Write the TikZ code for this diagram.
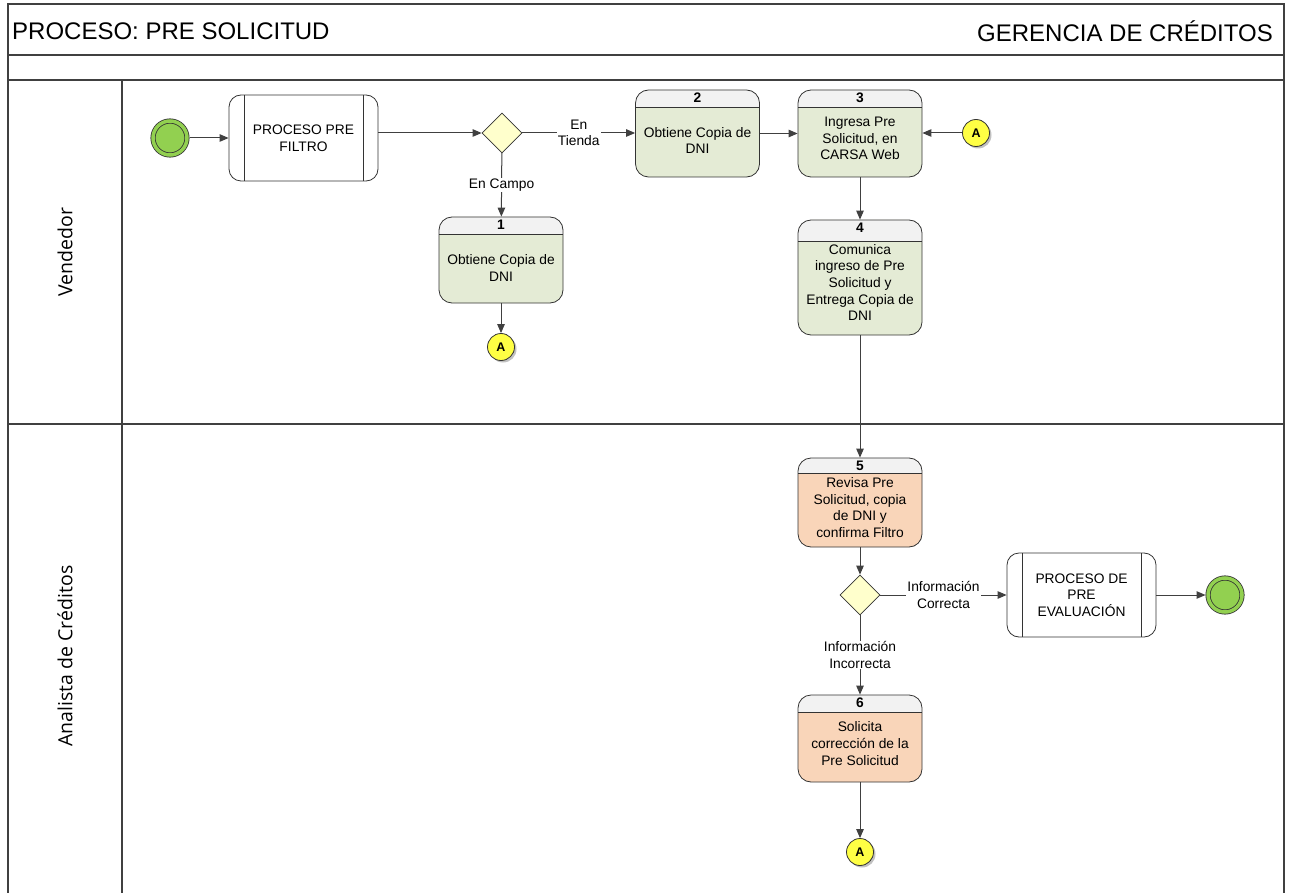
\documentclass[tikz,border=0pt]{standalone}
\usepackage{fontspec}
\setmainfont{Liberation Sans}
\newfontfamily\lanefont{Open Sans}
\usepackage{tikz}
\usetikzlibrary{shapes.geometric,arrows.meta,calc,shadows,positioning}

\definecolor{evgreen}{HTML}{92D050}
\definecolor{gwyellow}{HTML}{FFFFCC}
\definecolor{taskgreen}{HTML}{E4EBD5}
\definecolor{taskorange}{HTML}{F9D5B9}
\definecolor{headgray}{HTML}{F2F2F2}
\definecolor{conyellow}{HTML}{FFFF44}
\definecolor{linegray}{HTML}{404040}

\newcommand{\shapefont}{\fontsize{13.8}{16.6}\selectfont}
\newcommand{\titlefont}{\fontsize{24}{27}\selectfont}

\begin{document}
\begin{tikzpicture}[x=1pt,y=-1pt,
    frameline/.style={line width=1.4pt,draw=black!75},
    flow/.style={draw=linegray,line width=1pt,-{Triangle[length=9pt,width=7.5pt]}},
    lbl/.style={fill=white,inner sep=1pt,align=center,font=\shapefont},
    event/.style={circle,draw=black!80,line width=0.8pt,fill=evgreen,double=evgreen,
        double distance=3.5pt,minimum size=34pt,inner sep=0pt,outer sep=2.5pt},
    gateway/.style={diamond,aspect=1,draw=black!80,line width=0.8pt,fill=gwyellow,
        minimum size=40pt,inner sep=0pt},
    subproc/.style={draw=black!80,line width=0.8pt,rounded corners=12pt,
        minimum width=149pt,minimum height=86pt,align=center,font=\shapefont,
        path picture={
            \draw[black!80,line width=0.8pt,sharp corners]
                ([xshift=15pt]path picture bounding box.north west) -- ([xshift=15pt]path picture bounding box.south west)
                ([xshift=-15pt]path picture bounding box.north east) -- ([xshift=-15pt]path picture bounding box.south east);
        }},
    taskhead/.store in=\taskhead, taskhead=17pt,
    task/.style={draw=black!80,line width=0.8pt,rounded corners=13pt,inner sep=0pt,
        minimum width=124pt,minimum height=87pt,
        path picture={
            \fill[headgray,sharp corners] (path picture bounding box.north west)
                rectangle ([yshift=-\taskhead]path picture bounding box.north east);
            \draw[black!80,line width=0.8pt,sharp corners]
                ([yshift=-\taskhead]path picture bounding box.north west) -- ([yshift=-\taskhead]path picture bounding box.north east);
        }},
    stepno/.style={label={[font=\bfseries\shapefont,anchor=center,yshift=-8.5pt,inner sep=0pt]north:#1}},
    tasktext/.style={align=center,font=\shapefont,inner sep=0pt},
    conn/.style={circle,draw=black!80,line width=0.8pt,fill=conyellow,minimum size=27pt,
        inner sep=0pt,font=\bfseries\fontsize{12.5}{12.5}\selectfont,
        drop shadow={shadow xshift=2pt,shadow yshift=-2pt,fill=black!35,opacity=0.7}}]

    \useasboundingbox (0,0) rectangle (1292,893);

    %%% FRAME AND LANES %%%
    \draw[frameline] (8,893) -- (8,4) -- (1284,4) -- (1284,893);
    \draw[frameline] (8,55) -- (1284,55);
    \draw[frameline] (8,80) -- (1284,80);
    \draw[frameline] (122,80) -- (122,893);
    \draw[frameline] (8,424) -- (1284,424);

    \node[anchor=west,inner sep=0pt,font=\titlefont] (title) at (12,31) {PROCESO: PRE SOLICITUD};
    \node[anchor=east,inner sep=0pt,font=\titlefont] (dept) at (1273,31) {GERENCIA DE CRÉDITOS};
    \node[rotate=90,font=\lanefont\fontsize{19.5}{22}\selectfont] (vendedor) at (65,252) {Vendedor};
    \node[rotate=90,font=\lanefont\fontsize{19.5}{22}\selectfont] (analista) at (65,656) {Analista de Créditos};

    %%% VENDEDOR %%%
    \node[event] (start) at (170,138) {};
    \node[subproc] (prefiltro) at (303.5,138) {PROCESO PRE\\FILTRO};
    \node[gateway] (gw1) at (502,133) {};
    \node[task,stepno=2,fill=taskgreen] (t2) at (697.5,133.5) {};
    \node[tasktext] (t2txt) at ($(t2.center)+(0,7)$) {Obtiene Copia de\\DNI};
    \node[task,stepno=3,fill=taskgreen] (t3) at (860,133.5) {};
    \node[tasktext] (t3txt) at ($(t3.center)+(0,5)$) {Ingresa Pre\\Solicitud, en\\CARSA Web};
    \node[conn] (aR) at (976,133) {A};
    \node[task,stepno=1,fill=taskgreen,minimum height=86pt] (t1) at (501,260) {};
    \node[tasktext] (t1txt) at ($(t1.center)+(0,8)$) {Obtiene Copia de\\DNI};
    \node[conn] (a1) at (501,347) {A};
    \node[task,stepno=4,taskhead=21pt,fill=taskgreen,minimum height=115pt] (t4) at (860,277.5) {};
    \node[tasktext] (t4txt) at ($(t4.center)+(0,5)$) {Comunica\\ingreso de Pre\\Solicitud y\\Entrega Copia de\\DNI};

    %%% ANALISTA %%%
    \node[task,stepno=5,taskhead=15pt,fill=taskorange,minimum height=89pt] (t5) at (860,502.5) {};
    \node[tasktext] (t5txt) at ($(t5.center)+(0,5)$) {Revisa Pre\\Solicitud, copia\\de DNI y\\confirma Filtro};
    \node[gateway] (gw2) at (860,595) {};
    \node[subproc,minimum height=84pt] (preeval) at (1081.5,595) {PROCESO DE\\PRE\\EVALUACIÓN};
    \node[event] (end) at (1225,595) {};
    \node[task,stepno=6,fill=taskorange] (t6) at (860,738.5) {};
    \node[tasktext] (t6txt) at ($(t6.center)+(0,5)$) {Solicita\\corrección de la\\Pre Solicitud};
    \node[conn] (a3) at (860,852) {A};

    %%% FLOWS %%%
    \draw[flow] (start) -- (prefiltro);
    \draw[flow] (prefiltro.east |- gw1) -- (gw1);
    \draw[flow] (gw1.east) -- node[lbl]{En\\Tienda} (gw1.east -| t2.west);
    \draw[flow] (gw1) -- node[lbl]{En Campo} (t1);
    \draw[flow] (t2) -- (t3);
    \draw[flow] (aR) -- (aR -| t3.east);
    \draw[flow] (t3) -- (t4);
    \draw[flow] (t1) -- (a1);
    \draw[flow] (t4) -- (t5);
    \draw[flow] (t5) -- (gw2);
    \draw[flow] (gw2) -- node[lbl]{Información\\Correcta} (preeval);
    \draw[flow] (preeval) -- (end);
    \draw[flow] (gw2) -- node[lbl]{Información\\Incorrecta} (t6);
    \draw[flow] (t6) -- (a3);
\end{tikzpicture}
\end{document}
